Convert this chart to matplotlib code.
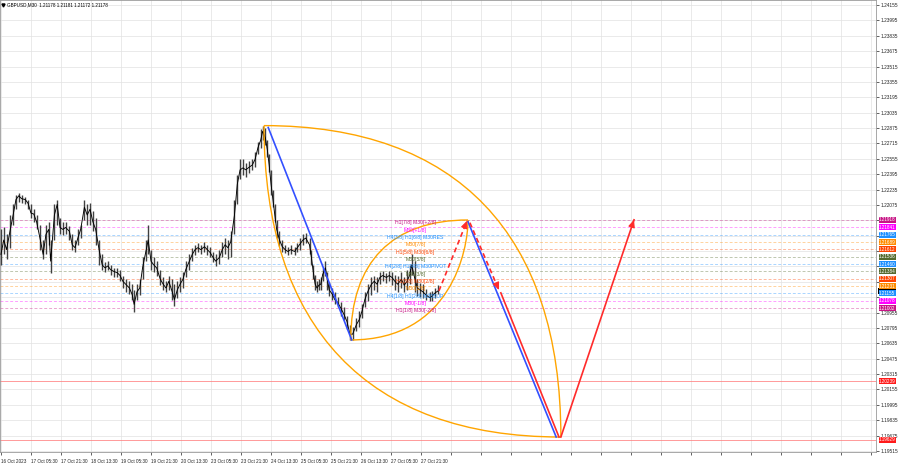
import matplotlib
matplotlib.use("Agg")
import matplotlib.pyplot as plt
import matplotlib.transforms as mtransforms
from matplotlib.path import Path
from matplotlib.patches import PathPatch, Rectangle

plt.rcParams['font.family'] = ['Liberation Sans', 'DejaVu Sans']

# ---------------- data ----------------
title_text = "GBPUSD,M30  1.21178 1.21181 1.21172 1.21178"

x_tick_labels = ["16 Oct 2023", "17 Oct 05:30", "17 Oct 21:30", "18 Oct 13:30", "19 Oct 05:30",
                 "19 Oct 21:30", "20 Oct 13:30", "23 Oct 05:30", "23 Oct 21:30", "24 Oct 13:30",
                 "25 Oct 05:30", "25 Oct 21:30", "26 Oct 13:30", "27 Oct 05:30", "27 Oct 21:30"]
bars_per_label = 32

y_tick_labels = ["1.24155", "1.23995", "1.23835", "1.23675", "1.23515", "1.23355", "1.23195",
                 "1.23035", "1.22875", "1.22715", "1.22555", "1.22395", "1.22235", "1.22075",
                 "1.21915", "1.21755", "1.21595", "1.21435", "1.21275", "1.21115", "1.20955",
                 "1.20795", "1.20635", "1.20475", "1.20315", "1.20155", "1.19995", "1.19835",
                 "1.19675", "1.19515"]
# tick labels hidden behind the coloured level labels on the price scale
hidden_y_labels = ["1.21915", "1.21755", "1.21595", "1.21435", "1.21275", "1.21115"]

bars = [0, 3, 6, 10, 13, 16, 19, 22, 26, 29,
        32, 35, 38, 42, 45, 48, 51, 53, 57, 60,
        63, 66, 69, 73, 76, 79, 82, 85, 89, 92,
        95, 98, 101, 105, 108, 111, 114, 117, 121, 124,
        127, 130, 133, 137, 140, 142, 145, 148, 151, 155,
        157, 160, 163, 166, 170, 173, 176, 179, 182, 185,
        188, 191, 194, 197, 201, 204, 207, 210, 213, 217,
        220, 223, 226, 229, 233, 236, 239, 242, 245, 249,
        252, 255, 258, 261, 265, 268, 271, 274, 277, 279,
        282, 284, 286, 288, 290, 292, 294, 297, 300, 303,
        306, 309, 313, 316, 319, 322, 325, 329, 331, 333,
        335, 337, 339, 341, 343, 346, 348, 350, 353, 356,
        359, 363, 366, 369, 372, 375, 379, 382, 385, 388,
        391, 395, 398, 401, 404, 407, 411, 414, 417, 420,
        423, 427, 430, 433, 436, 438, 441, 444, 447, 450,
        453, 457, 460, 463, 466]

close = [1.2156, 1.2171, 1.2161, 1.2182, 1.2197, 1.2213, 1.2217, 1.2214, 1.2213, 1.2209,
         1.2199, 1.2198, 1.2190, 1.2171, 1.2156, 1.2177, 1.2182, 1.2149, 1.2197, 1.2208,
         1.2184, 1.2182, 1.2184, 1.2180, 1.2166, 1.2163, 1.2173, 1.2182, 1.2205, 1.2197,
         1.2203, 1.2190, 1.2182, 1.2159, 1.2145, 1.2142, 1.2144, 1.2140, 1.2138, 1.2137,
         1.2134, 1.2128, 1.2125, 1.2121, 1.2114, 1.2104, 1.2117, 1.2121, 1.2142, 1.2161,
         1.2171, 1.2149, 1.2145, 1.2142, 1.2130, 1.2125, 1.2121, 1.2128, 1.2119, 1.2109,
         1.2119, 1.2125, 1.2130, 1.2140, 1.2149, 1.2156, 1.2161, 1.2163, 1.2161, 1.2164,
         1.2161, 1.2158, 1.2153, 1.2149, 1.2153, 1.2161, 1.2166, 1.2163, 1.2169, 1.2197,
         1.2229, 1.2244, 1.2246, 1.2244, 1.2247, 1.2249, 1.2255, 1.2267, 1.2275, 1.2284,
         1.2277, 1.2265, 1.2249, 1.2229, 1.2213, 1.2197, 1.2182, 1.2171, 1.2164, 1.2161,
         1.2159, 1.2161, 1.2159, 1.2163, 1.2167, 1.2171, 1.2173, 1.2166, 1.2153, 1.2138,
         1.2125, 1.2121, 1.2124, 1.2125, 1.2135, 1.2142, 1.2130, 1.2119, 1.2115, 1.2109,
         1.2106, 1.2099, 1.2093, 1.2086, 1.2073, 1.2073, 1.2083, 1.2088, 1.2097, 1.2109,
         1.2117, 1.2125, 1.2128, 1.2125, 1.2132, 1.2134, 1.2132, 1.2134, 1.2132, 1.2128,
         1.2125, 1.2130, 1.2124, 1.2128, 1.2135, 1.2145, 1.2132, 1.2121, 1.2119, 1.2117,
         1.2114, 1.2111, 1.2113, 1.2116, 1.2118]

high = [1.2182, 1.2184, 1.2177, 1.2197, 1.2208, 1.2218, 1.2220, 1.2218, 1.2216, 1.2213,
        1.2208, 1.2203, 1.2197, 1.2187, 1.2171, 1.2187, 1.2190, 1.2171, 1.2208, 1.2213,
        1.2194, 1.2190, 1.2190, 1.2186, 1.2177, 1.2171, 1.2182, 1.2187, 1.2213, 1.2208,
        1.2210, 1.2201, 1.2194, 1.2171, 1.2156, 1.2148, 1.2149, 1.2145, 1.2142, 1.2142,
        1.2140, 1.2134, 1.2130, 1.2128, 1.2125, 1.2119, 1.2125, 1.2130, 1.2153, 1.2171,
        1.2187, 1.2161, 1.2153, 1.2149, 1.2140, 1.2132, 1.2128, 1.2134, 1.2130, 1.2125,
        1.2128, 1.2132, 1.2138, 1.2149, 1.2156, 1.2163, 1.2166, 1.2168, 1.2166, 1.2169,
        1.2166, 1.2164, 1.2159, 1.2156, 1.2161, 1.2169, 1.2173, 1.2171, 1.2180, 1.2213,
        1.2239, 1.2255, 1.2255, 1.2251, 1.2253, 1.2255, 1.2263, 1.2273, 1.2286, 1.2290,
        1.2288, 1.2275, 1.2260, 1.2244, 1.2223, 1.2208, 1.2192, 1.2180, 1.2171, 1.2166,
        1.2164, 1.2166, 1.2164, 1.2168, 1.2173, 1.2177, 1.2178, 1.2173, 1.2161, 1.2145,
        1.2135, 1.2128, 1.2130, 1.2132, 1.2142, 1.2149, 1.2138, 1.2127, 1.2121, 1.2117,
        1.2112, 1.2106, 1.2101, 1.2092, 1.2083, 1.2080, 1.2090, 1.2097, 1.2104, 1.2117,
        1.2125, 1.2132, 1.2134, 1.2132, 1.2138, 1.2139, 1.2137, 1.2139, 1.2138, 1.2135,
        1.2134, 1.2138, 1.2132, 1.2140, 1.2145, 1.2156, 1.2149, 1.2130, 1.2126, 1.2125,
        1.2120, 1.2117, 1.2118, 1.2121, 1.2124]

low = [1.2145, 1.2156, 1.2151, 1.2163, 1.2187, 1.2203, 1.2211, 1.2209, 1.2208, 1.2203,
       1.2194, 1.2190, 1.2182, 1.2161, 1.2151, 1.2156, 1.2166, 1.2137, 1.2171, 1.2187,
       1.2177, 1.2176, 1.2177, 1.2171, 1.2161, 1.2159, 1.2166, 1.2173, 1.2192, 1.2187,
       1.2187, 1.2180, 1.2166, 1.2145, 1.2140, 1.2138, 1.2140, 1.2135, 1.2133, 1.2132,
       1.2128, 1.2121, 1.2117, 1.2115, 1.2109, 1.2096, 1.2109, 1.2114, 1.2130, 1.2149,
       1.2156, 1.2140, 1.2138, 1.2134, 1.2124, 1.2119, 1.2117, 1.2119, 1.2109, 1.2102,
       1.2111, 1.2117, 1.2121, 1.2132, 1.2140, 1.2149, 1.2155, 1.2158, 1.2156, 1.2159,
       1.2155, 1.2153, 1.2148, 1.2144, 1.2146, 1.2153, 1.2156, 1.2151, 1.2153, 1.2177,
       1.2208, 1.2234, 1.2239, 1.2237, 1.2241, 1.2244, 1.2247, 1.2260, 1.2267, 1.2275,
       1.2270, 1.2257, 1.2242, 1.2218, 1.2205, 1.2190, 1.2173, 1.2165, 1.2159, 1.2157,
       1.2155, 1.2156, 1.2155, 1.2158, 1.2161, 1.2166, 1.2168, 1.2156, 1.2145, 1.2130,
       1.2119, 1.2117, 1.2119, 1.2119, 1.2128, 1.2134, 1.2119, 1.2113, 1.2109, 1.2104,
       1.2101, 1.2092, 1.2088, 1.2078, 1.2067, 1.2067, 1.2076, 1.2080, 1.2090, 1.2101,
       1.2107, 1.2114, 1.2119, 1.2117, 1.2125, 1.2128, 1.2126, 1.2128, 1.2124, 1.2119,
       1.2117, 1.2121, 1.2117, 1.2119, 1.2125, 1.2135, 1.2117, 1.2113, 1.2112, 1.2111,
       1.2109, 1.2107, 1.2108, 1.2111, 1.2115]

# Murrey-style levels (price, label colour, annotation)
level_prices = [1.21918, 1.21841, 1.21765, 1.21689, 1.21612, 1.21536, 1.21460,
                1.21384, 1.21307, 1.21231, 1.21155, 1.21078, 1.21002]
level_colors = ["#c71585", "#ff00ff", "#1e90ff", "#ff8c00", "#ff4500", "#556b2f", "#1e90ff",
                "#556b2f", "#ff4500", "#ff8c00", "#1e90ff", "#ff00ff", "#c71585"]
level_texts = ["H1[7/8] M30[+2/8]", "M30[+1/8]", "H4[3/8] H1[6/8] M30RES", "M30[7/8]",
               "H1[5/8] M30[6/8]", "M30[5/8]", "H4[2/8] H1[4/8] M30PIVOT", "M30[3/8]",
               "H1[3/8] M30[2/8]", "M30[1/8]", "H4[1/8] H1[2/8] M30SUP", "M30[-1/8]",
               "H1[1/8] M30[-2/8]"]
text_bar = 442

target_prices = [1.20239, 1.19629]
current_price = 1.21178

# projection legs (bar index, price)
blue_leg1_bar, blue_leg1_price = [285, 374], [1.2288, 1.2067]
blue_leg2_bar, blue_leg2_price = [498, 592], [1.2190, 1.1966]
red_dash1_bar, red_dash1_price = [467, 497], [1.2118, 1.2191]
red_dash2_bar, red_dash2_price = [500, 531], [1.2189, 1.2119]
red_solid1_bar, red_solid1_price = [533, 595], [1.2116, 1.1966]
red_solid2_bar, red_solid2_price = [597, 675], [1.1966, 1.2192]

# orange arcs: cubic Bezier control points (bar, price)
arc_outer_bar, arc_outer_price = [280.5, 486, 597, 597], [1.2290, 1.2290, 1.2177, 1.1966]
arc_inner_bar, arc_inner_price = [280.5, 280.5, 391, 597], [1.2290, 1.2080, 1.1966, 1.1966]
arc_small_up_bar, arc_small_up_price = [373, 373, 417, 498], [1.2067, 1.2148, 1.21918, 1.21918]
arc_small_dn_bar, arc_small_dn_price = [373, 480, 498, 498], [1.2067, 1.2067, 1.2161, 1.21918]

# ---------------- figure ----------------
fig = plt.figure(figsize=(9, 4.68), dpi=100)
ax = fig.add_axes([0, 16 / 468, 876 / 900, 452 / 468])
ax.set_xlim(-1, 933)
ax.set_ylim(1.19504, 1.24207)

for s in ax.spines.values():
    s.set_color("#9a9a9a")
    s.set_linewidth(0.6)

xt = list(range(0, 933, bars_per_label))
xl = x_tick_labels + [""] * (len(xt) - len(x_tick_labels))
ax.set_xticks(xt)
ax.set_xticklabels(xl)
offset = mtransforms.ScaledTranslation(1.2 / 72, 0, fig.dpi_scale_trans)
for lbl in ax.get_xticklabels():
    lbl.set_ha("left")
    lbl.set_transform(lbl.get_transform() + offset)
ax.tick_params(axis="x", length=2, width=0.5, pad=3.0, labelsize=3.3, colors="#222222")

ax.yaxis.tick_right()
ax.set_yticks([float(v) for v in y_tick_labels])
ax.set_yticklabels(["" if v in hidden_y_labels else v for v in y_tick_labels])
ax.tick_params(axis="y", length=2, width=0.5, pad=1.0, labelsize=3.4, colors="#222222")

ax.grid(True, color="#e2e2e2", lw=0.5, zorder=0)
ax.set_axisbelow(True)

# levels
for p, c in zip(level_prices, level_colors):
    ax.axhline(p, color=c, lw=0.7, alpha=0.38, ls=(0, (3, 2)), zorder=1)
for p in target_prices:
    ax.axhline(p, color="#ff8080", lw=0.7, alpha=0.8, zorder=1)

# price bars
ax.vlines(bars, low, high, color="#404040", lw=1.0, zorder=3)
ax.plot(bars, close, color="black", lw=0.65, zorder=3.5)

# orange arcs
codes = [Path.MOVETO, Path.CURVE4, Path.CURVE4, Path.CURVE4]
for bx, py in [(arc_outer_bar, arc_outer_price), (arc_inner_bar, arc_inner_price),
               (arc_small_up_bar, arc_small_up_price), (arc_small_dn_bar, arc_small_dn_price)]:
    path = Path(list(zip(bx, py)), codes)
    ax.add_patch(PathPatch(path, fill=False, ec="#ffa500", lw=1.0, zorder=4))

# blue legs
ax.plot(blue_leg1_bar, blue_leg1_price, color="#3350ff", lw=1.2, zorder=5)
ax.plot(blue_leg2_bar, blue_leg2_price, color="#3350ff", lw=1.2, zorder=5)

# red legs
red = "#ff2b2b"
ax.plot(red_dash1_bar, red_dash1_price, color=red, lw=1.2, ls=(0, (3, 2)), zorder=6)
ax.plot(red_dash2_bar, red_dash2_price, color=red, lw=1.2, ls=(0, (3, 2)), zorder=6)
ax.plot(red_solid1_bar, red_solid1_price, color=red, lw=1.2, zorder=6)
ax.plot(red_solid2_bar, red_solid2_price, color=red, lw=1.2, zorder=6)


def head(bx, py):
    x0, x1 = bx
    y0, y1 = py
    xs = x1 - (x1 - x0) * 0.03
    ys = y1 - (y1 - y0) * 0.03
    ax.annotate("", xy=(x1, y1), xytext=(xs, ys),
                arrowprops=dict(arrowstyle="-|>,head_length=0.45,head_width=0.2",
                                color=red, lw=0.8, shrinkA=0, shrinkB=0), zorder=7)


head(red_dash1_bar, red_dash1_price)
head(red_dash2_bar, red_dash2_price)
head(red_solid2_bar, red_solid2_price)

# level annotations
for p, c, t in zip(level_prices, level_colors, level_texts):
    ax.text(text_bar, p - 0.00028, t, color=c, fontsize=3.7, ha="center", va="center", zorder=8)

# right-side price labels
trans = mtransforms.blended_transform_factory(ax.transAxes, ax.transData)

# current-price marker (mostly covered by the neighbouring level labels)
ax.add_patch(Rectangle((1.0025, current_price - 0.00028), 0.0205, 0.00056, transform=trans,
                       fc="black", ec="none", clip_on=False, zorder=9))


def price_box(p, c):
    ax.text(1.0035, p, f"{p:.5f}", transform=trans, color="white", fontsize=3.3,
            ha="left", va="center", clip_on=False, zorder=10,
            bbox=dict(boxstyle="square,pad=0.12", fc=c, ec="none"))


for p, c in zip(level_prices, level_colors):
    price_box(p, c)
for p in target_prices:
    price_box(p, "#ff1a1a")

# title
ax.plot([0.0035], [0.9895], marker="v", ms=2.2, color="black", transform=ax.transAxes,
        clip_on=False, zorder=10)
ax.text(0.0085, 0.9895, title_text, transform=ax.transAxes, fontsize=3.3,
        ha="left", va="center", color="black", zorder=10)

fig.savefig("out.png", dpi=100)
